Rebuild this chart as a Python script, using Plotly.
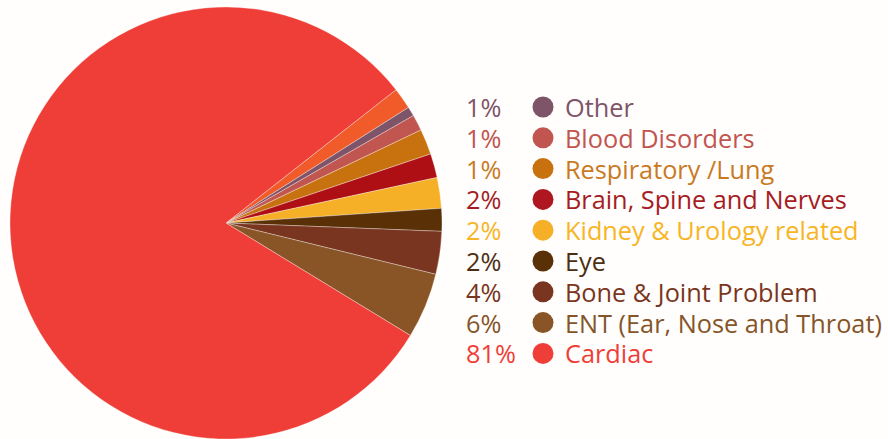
import plotly.graph_objects as go

# Slice data in clockwise order starting from the top-right slice
slice_names = ["", "Other", "Blood Disorders", "Respiratory /Lung", "Brain, Spine and Nerves",
               "Kidney & Urology related", "Eye", "Bone & Joint Problem",
               "ENT (Ear, Nose and Throat)", "Cardiac"]
slice_values = [1.6, 0.7, 1.2, 1.9, 1.8, 2.3, 1.7, 3.2, 4.9, 80.7]
slice_colors = ["#F15A29", "#7E5468", "#C1554F", "#C8720F", "#AE0F14",
                "#F5B027", "#5A3006", "#7A3520", "#8A5526", "#EF3E38"]

# Legend rows (top to bottom)
legend_labels = ["Other", "Blood Disorders", "Respiratory /Lung", "Brain, Spine and Nerves",
                 "Kidney & Urology related", "Eye", "Bone & Joint Problem",
                 "ENT (Ear, Nose and Throat)", "Cardiac"]
legend_pcts = ["1%", "1%", "1%", "2%", "2%", "2%", "4%", "6%", "81%"]
legend_colors = ["#7E5468", "#C1554F", "#C97A24", "#A51C24", "#F7B526",
                 "#4B2E13", "#7A3520", "#85552A", "#EF3E38"]
dot_colors = ["#7E5468", "#C1554F", "#C8720F", "#AE1620", "#F5B027",
              "#5A3006", "#7A3520", "#8A5526", "#EF3E38"]

W, H = 888, 439

fig = go.Figure()
fig.add_trace(go.Pie(
    labels=[n if n else " " for n in slice_names],
    values=slice_values,
    marker=dict(colors=slice_colors, line=dict(color="rgba(255,255,255,0.55)", width=0.6)),
    sort=False,
    direction="clockwise",
    rotation=51.9,
    textinfo="none",
    hoverinfo="label+percent",
    showlegend=False,
    domain=dict(x=[9.5 / W, 442.5 / W], y=[0.0, (H - 7) / H]),
))

row_top = 107
row_step = 30.8
font_family = "'Open Sans', 'Noto Sans', sans-serif"
fsize = 25.3
annotations = []
shapes = []
for i, (lab, pct, col, dcol) in enumerate(zip(legend_labels, legend_pcts, legend_colors, dot_colors)):
    yc = row_top + i * row_step
    yp = 1 - yc / H
    annotations.append(dict(x=465 / W, y=yp, xref="paper", yref="paper", text=pct,
                            showarrow=False, xanchor="left", yanchor="middle", borderpad=0,
                            font=dict(family=font_family, size=fsize, color=col)))
    annotations.append(dict(x=564 / W, y=yp, xref="paper", yref="paper", text=lab,
                            showarrow=False, xanchor="left", yanchor="middle", borderpad=0,
                            font=dict(family=font_family, size=fsize, color=col)))
    r = 10.5
    shapes.append(dict(type="circle", xref="paper", yref="paper",
                       x0=(543 - r) / W, x1=(543 + r) / W,
                       y0=1 - (yc + r) / H, y1=1 - (yc - r) / H,
                       fillcolor=dcol, line=dict(width=0)))

fig.update_layout(
    width=W, height=H,
    margin=dict(l=0, r=0, t=0, b=0),
    paper_bgcolor="#FFFEFC",
    plot_bgcolor="#FFFEFC",
    annotations=annotations,
    shapes=shapes,
)

fig.write_html("out.html", config={"displayModeBar": False},
               post_script="document.body.style.margin='0';document.body.style.overflow='hidden';")
